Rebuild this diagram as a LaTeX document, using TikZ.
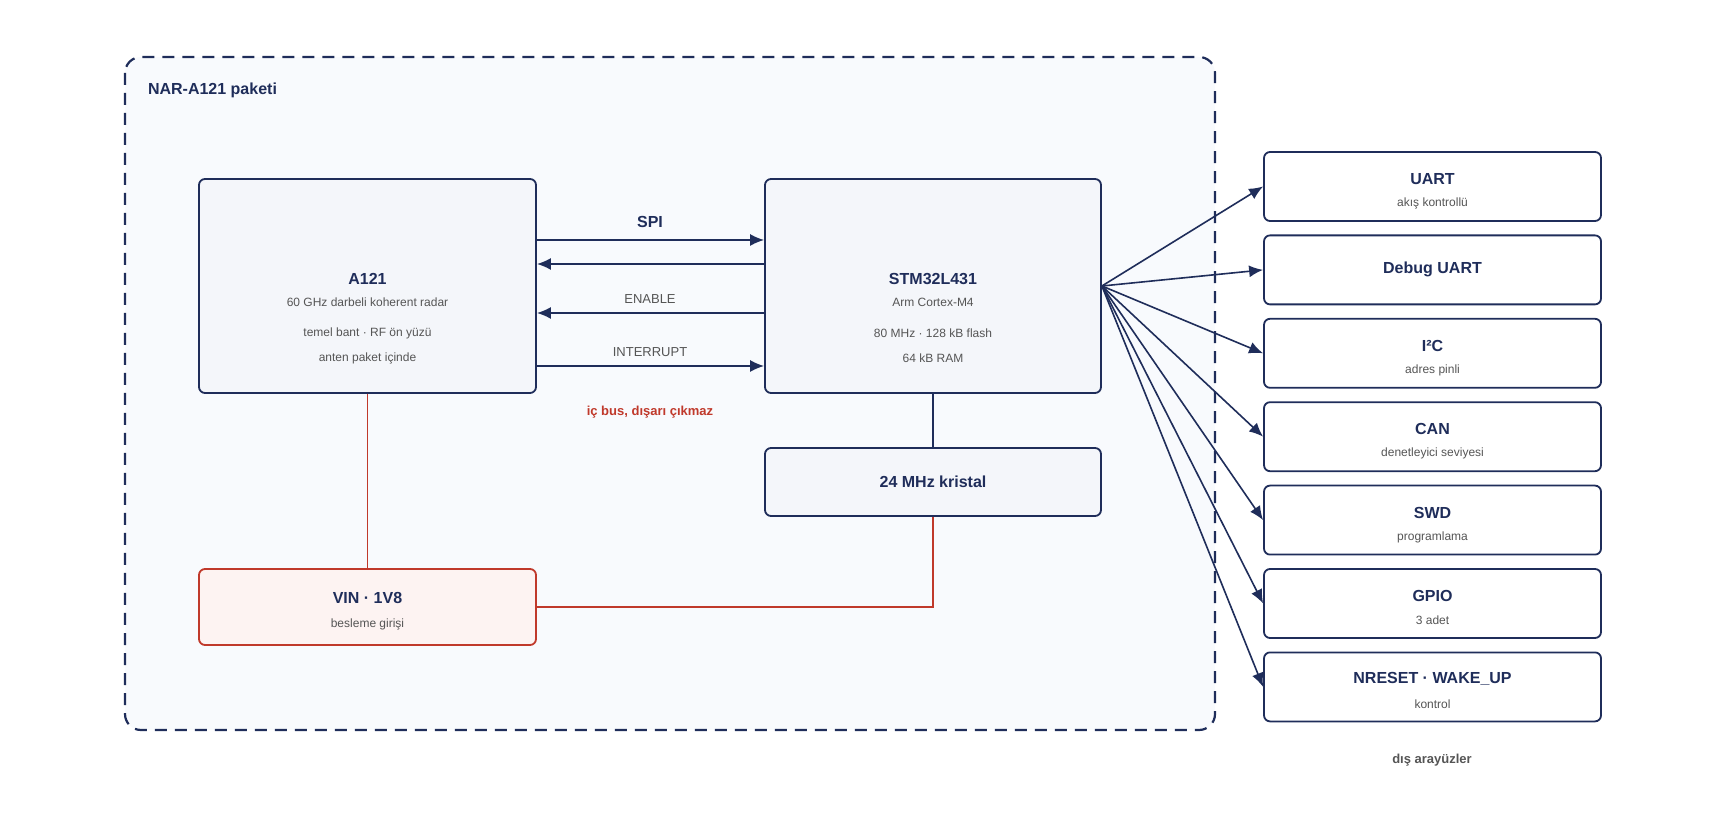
\documentclass[tikz,border=0pt]{standalone}
\usepackage{fontspec}
\setmainfont{Liberation Sans}
\usetikzlibrary{arrows.meta,positioning}
\definecolor{navy}{HTML}{1F2D5A}
\definecolor{boxfill}{HTML}{F4F6FA}
\definecolor{pkgfill}{HTML}{F8FAFD}
\definecolor{redline}{HTML}{C0392B}
\definecolor{redfill}{HTML}{FDF3F2}
\definecolor{subgrey}{HTML}{555555}
\tikzset{
  blk/.style={draw=navy,line width=0.9pt,fill=boxfill,rounded corners=3pt,inner sep=0pt},
  pwr/.style={blk,draw=redline,fill=redfill},
  ifc/.style={draw=navy,line width=0.9pt,fill=white,rounded corners=3pt,minimum width=168.5pt,minimum height=34.5pt},
  ttl/.style={text=navy,font=\fontsize{8}{10}\selectfont\bfseries},
  sub/.style={text=subgrey,font=\fontsize{6}{8}\selectfont},
  bus/.style={draw=navy,line width=0.8pt,-{Latex[length=7pt,width=6pt]}},
  feed/.style={draw=redline,line width=0.6pt}
}
\begin{document}
\begin{tikzpicture}[x=0.5pt,y=-0.5pt]
\useasboundingbox (0,0) rectangle (1722,822);
% package outline
\draw[navy,line width=1.1pt,dash pattern=on 6pt off 4pt,fill=pkgfill,rounded corners=8pt] (125,57) rectangle (1215,730);
\node[ttl,anchor=west] (pkg) at (141,90) {NAR-A121 paketi};

% blocks inside the package
\node[blk,minimum width=168.5pt,minimum height=107pt] (a121) at (367.5,286) {};
\node[blk,minimum width=168pt,minimum height=107pt] (stm) at (933,286) {};
\node[blk,minimum width=168pt,minimum height=34pt] (xtal) at (933,482) {};
\node[pwr,minimum width=168.5pt,minimum height=38pt] (vin) at (367.5,607) {};

\node[ttl] (a121t) at (367.5,279) {A121};
\node[sub] (a121s1) at (367.5,302) {60 GHz darbeli koherent radar};
\node[sub] (a121s2) at (367.5,333) {temel bant · RF ön yüzü};
\node[sub] (a121s3) at (367.5,358) {anten paket içinde};
\node[ttl] (stmt) at (933,279) {STM32L431};
\node[sub] (stms1) at (933,302) {Arm Cortex-M4};
\node[sub] (stms2) at (933,333) {80 MHz · 128 kB flash};
\node[sub] (stms3) at (933,358) {64 kB RAM};
\node[ttl] (xtalt) at (933,482) {24 MHz kristal};
\node[ttl] (vint) at (367.5,598) {VIN · 1V8};
\node[sub] (vins) at (367.5,624) {besleme girişi};

% internal bus
\coordinate (a1) at (a121.east |- 0,240);
\coordinate (s1) at (stm.west |- 0,240);
\coordinate (a2) at (a121.east |- 0,264);
\coordinate (s2) at (stm.west |- 0,264);
\coordinate (a3) at (a121.east |- 0,313);
\coordinate (s3) at (stm.west |- 0,313);
\coordinate (a4) at (a121.east |- 0,366);
\coordinate (s4) at (stm.west |- 0,366);
\draw[bus] (a1) -- (s1);
\draw[bus] (s2) -- (a2);
\draw[bus] (s3) -- (a3);
\draw[bus] (a4) -- (s4);
\node[ttl] (spi) at (650,222) {SPI};
\node[sub,font=\fontsize{6.5}{8}\selectfont] (en) at (650,299) {ENABLE};
\node[sub,font=\fontsize{6.5}{8}\selectfont] (irq) at (650,352) {INTERRUPT};
\node[ttl,text=redline,font=\fontsize{6.5}{8}\selectfont\bfseries] (note) at (650,412) {iç bus, dışarı çıkmaz};

% clock and supply
\draw[navy,line width=0.8pt] (stm.south) -- (xtal.north);
\draw[feed] (a121.south) -- (vin.north);
\draw[feed] (xtal.south) |- (vin.east);

% external interfaces
\foreach \n/\t/\s [count=\i from 0] in {uart/UART/akış kontrollü,dbg/Debug UART/,iic/I²C/adres pinli,can/CAN/denetleyici seviyesi,swd/SWD/programlama,gpio/GPIO/3 adet,rst/NRESET · WAKE\_UP/kontrol}{
  \node[ifc] (\n) at (1432.5,{186.5+83.4*\i}) {};
  \draw[bus] (stm.east) -- (\n.west);
  \ifx\s\empty
    \node[ttl] at (\n.center) {\t};
  \else
    \node[ttl] at ([yshift=3.8pt]\n.center) {\t};
    \node[sub] at ([yshift=-8.5pt]\n.center) {\s};
  \fi
}
\node[ttl,text=subgrey,font=\fontsize{6.5}{8}\selectfont\bfseries] (ext) at (1432,760) {dış arayüzler};
\end{tikzpicture}
\end{document}
